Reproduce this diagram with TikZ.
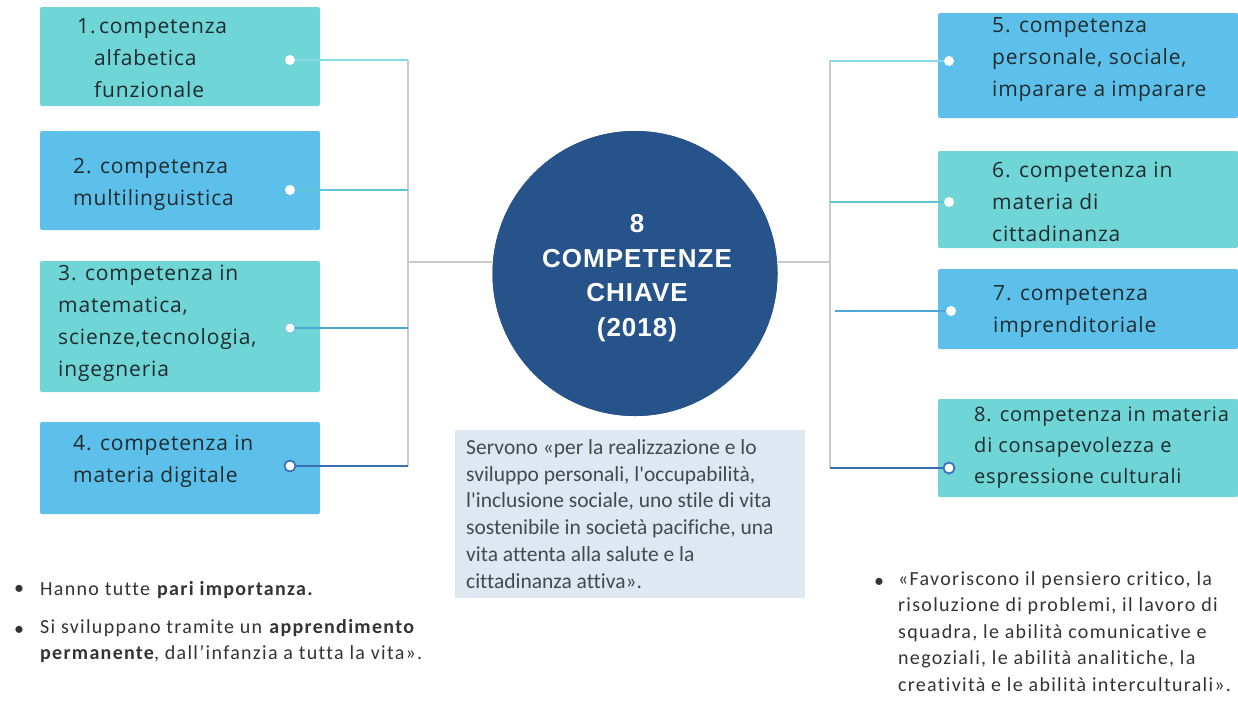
\documentclass[tikz,border=0pt]{standalone}
\usepackage{fontspec}
\setmainfont{Open Sans}[LetterSpace=4]
\newfontfamily\circfont{Liberation Sans}[LetterSpace=4]
\newfontfamily\calfont{Carlito}[Ligatures=NoCommon, LetterSpace=6.5]
\newfontfamily\calfontb{Carlito}[Ligatures=NoCommon]
\definecolor{teal}{HTML}{6FD5D6}
\definecolor{sky}{HTML}{5DC0EA}
\definecolor{navy}{HTML}{25538A}
\definecolor{pale}{HTML}{DDE8F3}
\definecolor{txt}{HTML}{1F2B2E}
\definecolor{btxt}{HTML}{333333}
\definecolor{graylink}{HTML}{CACACA}
\definecolor{lc1}{HTML}{86DCE6}
\definecolor{lc2}{HTML}{5DC7D4}
\definecolor{lc3}{HTML}{4EA6D8}
\definecolor{lc4}{HTML}{3A6DB2}
\definecolor{ring}{HTML}{3D72B8}
\tikzset{
  box/.style={rectangle, rounded corners=2pt, inner sep=0pt, minimum width=280pt},
  rbox/.style={rectangle, rounded corners=2pt, inner sep=0pt, minimum width=300pt},
  btext/.style={anchor=west, align=left, inner sep=0pt, text=txt, font=\fontsize{21}{32}\selectfont},
  dot/.style={circle, fill=white, inner sep=0pt, minimum size=10pt},
  ringdot/.style={circle, fill=white, draw=ring, line width=1.8pt, inner sep=0pt, minimum size=11pt},
  link/.style={line width=1.6pt},
  trunk/.style={draw=graylink, line width=2pt},
  note/.style={anchor=west, align=left, inner sep=0pt, text=btxt, font=\calfont\fontsize{20}{26.5}\selectfont},
}
\begin{document}
\begin{tikzpicture}[x=1pt,y=-1pt]
\useasboundingbox (0,0) rectangle (1238,702);
% trunks
\coordinate (lt) at (408,60);
\coordinate (lb) at (408,466);
\coordinate (lm) at (408,262);
\coordinate (rt) at (830,60);
\coordinate (rb) at (830,468);
\coordinate (rm) at (830,262);
\coordinate (r7) at (835,311);
\node[circle, fill=navy, minimum size=285pt, inner sep=0pt] (circ) at (635,273.5) {};
\draw[trunk] (lt) -- (lb);
\draw[trunk] (rt) -- (rb);
\draw[trunk] (lm) -- (lm -| circ.west);
\draw[trunk] (rm) -- (rm -| circ.east);
\node[circle, fill=navy, minimum size=285pt, inner sep=0pt] (circ2) at (635,273.5) {};
\node[align=center, text=white, font=\circfont\bfseries\fontsize{26}{34.5}\selectfont, inner sep=0pt] (ctitle) at (637,278) {8\\COMPETENZE\\CHIAVE\\(2018)};

% left boxes
\node[box, fill=teal, minimum height=99pt] (b1) at (180,56.5) {};
\node[box, fill=sky, minimum height=99pt] (b2) at (180,180.5) {};
\node[box, fill=teal, minimum height=131pt] (b3) at (180,326.5) {};
\node[box, fill=sky, minimum height=92pt] (b4) at (180,468) {};
\node[btext] (t1) at (77,58) {1.\,competenza\\\hspace*{17pt}alfabetica\\\hspace*{17pt}funzionale};
\node[btext] (t2) at (73,184) {2. competenza\\multilinguistica};
\node[btext] (t3) at (58,323) {3. competenza in\\matematica,\\scienze,tecnologia,\\ingegneria};
\node[btext] (t4) at (73,461) {4. competenza in\\materia digitale};
\node[dot] (d1) at (290,60) {};
\node[dot] (d2) at (290,190) {};
\node[dot, draw=lc3!70, line width=0.8pt] (d3) at (290,328) {};
\node[ringdot] (d4) at (290,466) {};
\draw[link, lc1] (d1) -- (d1 -| lt);
\draw[link, lc2] (d2) -- (d2 -| lt);
\draw[link, lc3] (d3) -- (d3 -| lt);
\draw[link, lc4] (d4) -- (d4 -| lt);

% right boxes
\node[rbox, fill=sky, minimum height=105pt] (b5) at (1088,65.5) {};
\node[rbox, fill=teal, minimum height=97pt] (b6) at (1088,199.5) {};
\node[rbox, fill=sky, minimum height=80pt] (b7) at (1088,309) {};
\node[rbox, fill=teal, minimum height=98pt] (b8) at (1088,448) {};
\node[btext] (t5) at (992,60) {5. competenza\\personale, sociale,\\imparare a imparare};
\node[btext] (t6) at (992,202) {6. competenza in\\materia di\\cittadinanza};
\node[btext] (t7) at (993,312) {7. competenza\\imprenditoriale};
\node[btext, font=\fontsize{20}{31}\selectfont] (t8) at (974,448) {8. competenza in materia\\di consapevolezza e\\espressione culturali};
\node[dot] (d5) at (949,61) {};
\node[dot] (d6) at (949,202) {};
\node[dot] (d7) at (951,311) {};
\node[ringdot] (d8) at (949,468) {};
\draw[link, lc1] (d5) -- (d5 -| rt);
\draw[link, lc2] (d6) -- (d6 -| rt);
\draw[link, lc3] (d7) -- (r7);
\draw[link, lc4] (d8) -- (d8 -| rt);

% central note
\node[rectangle, fill=pale, minimum width=350pt, minimum height=168pt, inner sep=0pt] (nb) at (630,514) {};
\node[note, text=txt!85, font=\calfontb\fontsize{21.5}{26.8}\selectfont] (nt) at (466,514) {Servono «per la realizzazione e lo\\sviluppo personali, l'occupabilità,\\l'inclusione sociale, uno stile di vita\\sostenibile in società pacifiche, una\\vita attenta alla salute e la\\cittadinanza attiva».};

% bottom bullets
\node[note] (bl1) at (14,590) {•};
\node[note] (tl1) at (40,590) {Hanno tutte \textbf{pari importanza.}};
\node[note] (bl2) at (14,631) {•};
\node[note, anchor=north west] (tl2) at (40,619) {Si sviluppano tramite un \textbf{apprendimento}\\\textbf{permanente}, dall’infanzia a tutta la vita».};
\node[note] (br1) at (874,583) {•};
\node[note, anchor=north west] (tr1) at (898,571) {«Favoriscono il pensiero critico, la\\risoluzione di problemi, il lavoro di\\squadra, le abilità comunicative e\\negoziali, le abilità analitiche, la\\creatività e le abilità interculturali».};
\end{tikzpicture}
\end{document}
